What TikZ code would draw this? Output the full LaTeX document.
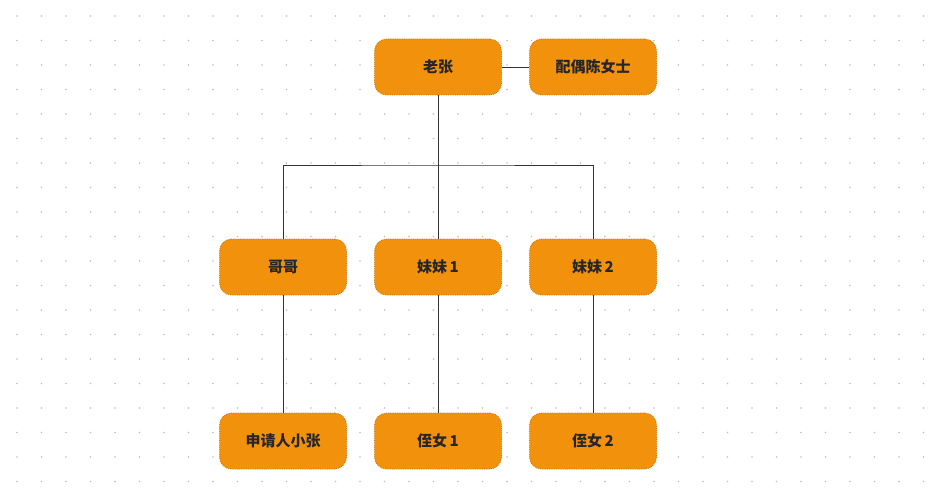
\documentclass[tikz,border=0pt]{standalone}
\usepackage{fontspec}
\newfontfamily\cjk{Noto Sans CJK SC}
\definecolor{boxfill}{HTML}{F2920C}
\definecolor{boxedge}{HTML}{C8740A}
\tikzset{
  person/.style={draw=boxedge, densely dotted, line width=0.8pt, fill=boxfill,
    rounded corners=12pt, minimum width=127pt, minimum height=56pt,
    font=\cjk\bfseries\fontsize{15}{15}\selectfont, text=black!85},
  link/.style={draw=black!80, line width=0.7pt}
}
\begin{document}
\begin{tikzpicture}[x=1pt, y=-1pt]
\useasboundingbox (0,0) rectangle (942,500);
\fill[white] (0,0) rectangle (942,500);
% dot grid
\foreach \gx in {0,...,38}
  \foreach \gy in {0,...,20}
    \fill[black!25] (17+24.5*\gx, 16+24.5*\gy) circle (0.9pt);

\node[person] (zhang) at (438,67) {老张};
\node[person] (spouse) at (593,67) {配偶陈女士};
\node[person] (gege) at (283,267) {哥哥};
\node[person] (meimei1) at (438,267) {妹妹\,1};
\node[person] (meimei2) at (593,267) {妹妹\,2};
\node[person] (xiaozhang) at (283,441) {申请人小张};
\node[person] (zhinv1) at (438,441) {侄女\,1};
\node[person] (zhinv2) at (593,441) {侄女\,2};

\draw[link] (zhang) -- (spouse);
\coordinate (fork) at (438,165);
\draw[link] (zhang) -- (meimei1);
\draw[link] (gege.north) |- (fork) -| (meimei2.north);
\draw[link] (gege) -- (xiaozhang);
\draw[link] (meimei1) -- (zhinv1);
\draw[link] (meimei2) -- (zhinv2);
\end{tikzpicture}
\end{document}
